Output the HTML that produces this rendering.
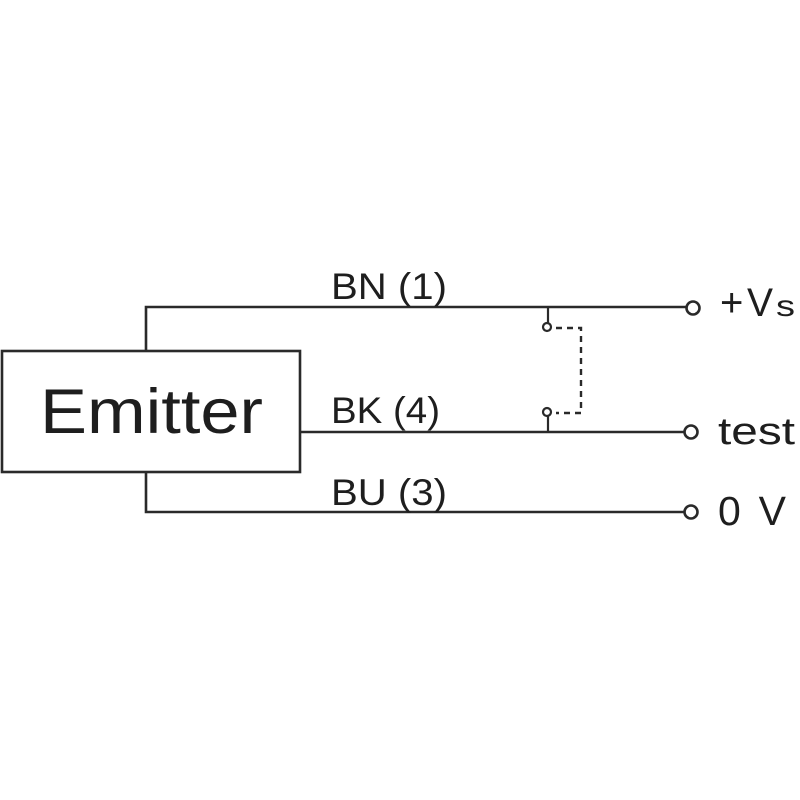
<!DOCTYPE html>
<html>
<head>
<meta charset="utf-8">
<style>
  html, body { margin: 0; padding: 0; background: #ffffff; }
  svg { display: block; }
  text { font-family: "Liberation Sans", "DejaVu Sans", sans-serif; fill: #1e1e1e; }
</style>
</head>
<body>
<svg width="800" height="800" viewBox="0 0 800 800" xmlns="http://www.w3.org/2000/svg">
  <rect x="0" y="0" width="800" height="800" fill="#ffffff"/>

  <!-- Emitter box -->
  <rect x="2" y="351" width="298" height="121" fill="none" stroke="#2a2a2a" stroke-width="2.6"/>
  <text x="40" y="433" font-size="63" textLength="223" lengthAdjust="spacingAndGlyphs">Emitter</text>

  <!-- BN line -->
  <polyline points="146,351 146,307 686,307" fill="none" stroke="#2a2a2a" stroke-width="2.6"/>
  <circle cx="693" cy="308" r="6.5" fill="#fff" stroke="#2a2a2a" stroke-width="2.6"/>
  <text x="331" y="299" font-size="37" textLength="116" lengthAdjust="spacingAndGlyphs">BN (1)</text>

  <!-- BK line -->
  <line x1="300" y1="432" x2="684" y2="432" stroke="#2a2a2a" stroke-width="2.6"/>
  <circle cx="691" cy="432" r="6.5" fill="#fff" stroke="#2a2a2a" stroke-width="2.6"/>
  <text x="331" y="423" font-size="37" textLength="109" lengthAdjust="spacingAndGlyphs">BK (4)</text>

  <!-- BU line -->
  <polyline points="146,472 146,512 684,512" fill="none" stroke="#2a2a2a" stroke-width="2.6"/>
  <circle cx="691" cy="512" r="6.5" fill="#fff" stroke="#2a2a2a" stroke-width="2.6"/>
  <text x="331" y="505" font-size="37" textLength="116" lengthAdjust="spacingAndGlyphs">BU (3)</text>

  <!-- test switch -->
  <line x1="548" y1="307" x2="548" y2="323" stroke="#2a2a2a" stroke-width="2.2"/>
  <circle cx="547" cy="327" r="4" fill="#fff" stroke="#2a2a2a" stroke-width="2.2"/>
  <line x1="548" y1="432" x2="548" y2="416" stroke="#2a2a2a" stroke-width="2.2"/>
  <circle cx="547" cy="412" r="4" fill="#fff" stroke="#2a2a2a" stroke-width="2.2"/>
  <polyline points="556,328 581,328 581,413 556,413" fill="none" stroke="#2a2a2a" stroke-width="2.4" stroke-dasharray="6,5"/>

  <!-- Terminal labels -->
  <text x="720" y="316" font-size="40">+</text>
  <text x="747" y="316" font-size="40" textLength="26" lengthAdjust="spacingAndGlyphs">V</text>
  <text x="776" y="316" font-size="30" textLength="19" lengthAdjust="spacingAndGlyphs">s</text>

  <text x="718" y="444" font-size="38" textLength="77" lengthAdjust="spacingAndGlyphs">test</text>

  <text x="718" y="525" font-size="41" textLength="68" lengthAdjust="spacing">0 V</text>
</svg>
</body>
</html>
